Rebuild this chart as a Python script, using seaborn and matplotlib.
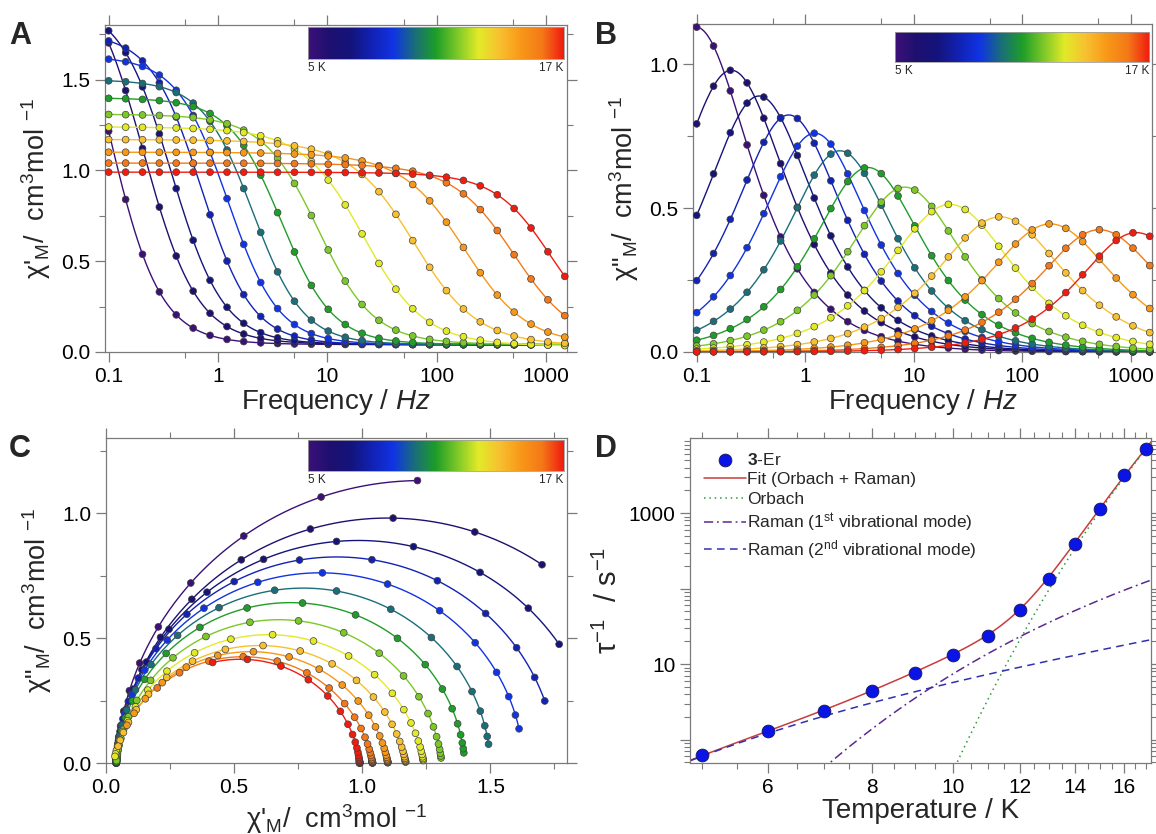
import numpy as np
import pandas as pd
import seaborn as sns
import matplotlib.pyplot as plt
from matplotlib import ticker
from matplotlib.colors import LinearSegmentedColormap

# temperatures of the ac measurements and the colour used for each
temps = [5, 6, 7, 8, 9, 10, 11, 12, 13, 14, 15, 16, 17]
temp_colors = ["#3c1078", "#1e1070", "#14147c", "#1222b4", "#1034e4", "#1a6e7a",
               "#1e9e28", "#7cc828", "#e2ea28", "#f8c030", "#f89818", "#f47818", "#f01c10"]

# measured ac frequencies (Hz)
freqs = [0.1, 0.143, 0.204, 0.291, 0.415, 0.593, 0.846, 1.21, 1.72, 2.46, 3.51, 5.01,
         7.15, 10.2, 14.6, 20.8, 29.7, 42.4, 60.5, 86.4, 123, 176, 251, 359, 512, 731,
         1043, 1488]

# generalised Debye parameters (one per temperature)
chi_T = [2.42, 2.16, 1.93, 1.76, 1.63, 1.50, 1.40, 1.31, 1.24, 1.17, 1.10, 1.04, 0.99]
chi_S = [0.04, 0.04, 0.04, 0.04, 0.04, 0.04, 0.04, 0.04, 0.03, 0.03, 0.03, 0.03, 0.06]
alpha = [0.033, 0.05, 0.038, 0.027, 0.028, 0.027, 0.037, 0.065, 0.104, 0.122, 0.116, 0.109, 0.072]

# relaxation rates tau^-1 (s^-1), panel D
tau_inv = [0.62, 1.31, 2.36, 4.43, 7.7, 13.1, 23.8, 51.8, 135, 392, 1135, 3220, 7020]

# Orbach + Raman fit parameters
orbach_pre, orbach_U = 8.5e9, 238.0
raman1_B, raman1_w = 6070.0, 67.0
raman2_B, raman2_w = 31.7, 20.0

sns.set_style("ticks")
plt.rcParams['font.family'] = ['Liberation Sans', 'DejaVu Sans']
plt.rcParams['mathtext.fontset'] = 'custom'
plt.rcParams['mathtext.rm'] = 'Liberation Sans'
plt.rcParams['mathtext.it'] = 'Liberation Sans:italic'
plt.rcParams['mathtext.bf'] = 'Liberation Sans:bold'

palette = dict(zip(temps, temp_colors))
FRAME = "#7a7a7a"


def debye(f, cs, ct, rate, a):
    x = (2 * np.pi * np.asarray(f, dtype=float) / rate) ** (1 - a)
    s, c = np.sin(np.pi * a / 2), np.cos(np.pi * a / 2)
    den = 1 + 2 * x * s + x ** 2
    return cs + (ct - cs) * (1 + x * s) / den, (ct - cs) * x * c / den


def build_tables():
    pts, fits = [], []
    fgrid = np.geomspace(freqs[0], freqs[-1], 300)
    for i, t in enumerate(temps):
        c1, c2 = debye(freqs, chi_S[i], chi_T[i], tau_inv[i], alpha[i])
        pts.append(pd.DataFrame({"T": t, "f": freqs, "chi1": c1, "chi2": c2}))
        g1, g2 = debye(fgrid, chi_S[i], chi_T[i], tau_inv[i], alpha[i])
        fits.append(pd.DataFrame({"T": t, "f": fgrid, "chi1": g1, "chi2": g2}))
    return pd.concat(pts), pd.concat(fits)


def style_axes(ax):
    for s in ax.spines.values():
        s.set_visible(True)
        s.set_color(FRAME)
        s.set_linewidth(0.9)
    ax.tick_params(which='both', direction='out', top=True, right=True,
                   color=FRAME, labelsize=15, labelcolor='black')
    ax.tick_params(which='major', length=7, width=0.9)
    ax.tick_params(which='minor', length=4, width=0.8)


def add_bar(ax, box):
    cax = ax.inset_axes(box)
    cmap = LinearSegmentedColormap.from_list("tk", temp_colors)
    cax.imshow(np.linspace(0, 1, 256)[None, :], aspect='auto', cmap=cmap)
    cax.set_xticks([])
    cax.set_yticks([])
    for s in cax.spines.values():
        s.set_color("#a0a0a0")
        s.set_linewidth(0.6)
    cax.text(0, -0.1, "5 K", transform=cax.transAxes, ha='left', va='top', fontsize=8.5)
    cax.text(1, -0.1, "17 K", transform=cax.transAxes, ha='right', va='top', fontsize=8.5)


def freq_panel(ax, pts, fits, col, ylim, ylabel, bar_box):
    sns.lineplot(data=fits, x="f", y=col, hue="T", palette=palette, estimator=None,
                 sort=False, linewidth=1, legend=False, ax=ax)
    sns.scatterplot(data=pts, x="f", y=col, hue="T", palette=palette, s=24,
                    edgecolor="#404040", linewidth=0.5, legend=False, ax=ax,
                    zorder=3, clip_on=False)
    ax.set_xscale('log')
    ax.set_xlim(0.0925, 1560)
    ax.set_ylim(*ylim)
    ax.xaxis.set_major_locator(ticker.FixedLocator([0.1, 1, 10, 100, 1000]))
    ax.xaxis.set_major_formatter(ticker.FuncFormatter(lambda v, p: f"{v:g}"))
    ax.xaxis.set_minor_locator(ticker.FixedLocator([0.5, 5, 50, 500]))
    ax.xaxis.set_minor_formatter(ticker.NullFormatter())
    ax.yaxis.set_major_locator(ticker.MultipleLocator(0.5))
    ax.yaxis.set_minor_locator(ticker.MultipleLocator(0.25))
    ax.yaxis.set_major_formatter(ticker.FormatStrFormatter('%.1f'))
    ax.set_xlabel(r"Frequency / $\mathit{Hz}$", fontsize=20, labelpad=1)
    ax.set_ylabel(ylabel, fontsize=19.5, labelpad=6)
    style_axes(ax)
    add_bar(ax, bar_box)


def cole_panel(ax, pts, fits):
    sns.lineplot(data=fits, x="chi1", y="chi2", hue="T", palette=palette, estimator=None,
                 sort=False, linewidth=1, legend=False, ax=ax)
    sns.scatterplot(data=pts, x="chi1", y="chi2", hue="T", palette=palette, s=24,
                    edgecolor="#404040", linewidth=0.5, legend=False, ax=ax,
                    zorder=3, clip_on=False)
    ax.set_xlim(0, 1.80)
    ax.set_ylim(0, 1.30)
    for axis in (ax.xaxis, ax.yaxis):
        axis.set_major_locator(ticker.MultipleLocator(0.5))
        axis.set_minor_locator(ticker.MultipleLocator(0.25))
        axis.set_major_formatter(ticker.FormatStrFormatter('%.1f'))
    ax.set_xlabel(r"χ'$_\mathregular{M}$/  cm$^\mathregular{3}$mol $^\mathregular{-1}$", fontsize=19.5, labelpad=4)
    ax.set_ylabel(r'χ"$_\mathregular{M}$/  cm$^\mathregular{3}$mol $^\mathregular{-1}$', fontsize=19.5, labelpad=6)
    style_axes(ax)
    add_bar(ax, [0.438, 0.898, 0.554, 0.095])


def raman(T, B, w):
    e = np.exp(w / T)
    return B * e / (e - 1) ** 2


def rate_panel(ax):
    Tg = np.geomspace(4.84, 17.3, 400)
    orb = orbach_pre * np.exp(-orbach_U / Tg)
    r1 = raman(Tg, raman1_B, raman1_w)
    r2 = raman(Tg, raman2_B, raman2_w)
    sns.scatterplot(x=temps, y=tau_inv, s=85, color="#0a14e6", edgecolor="#1a1a50",
                    linewidth=0.6, ax=ax, zorder=4, clip_on=False, label=r"$\mathbf{3}$-Er")
    sns.lineplot(x=Tg, y=orb + r1 + r2, color="#c83c3c", linewidth=1.1, ax=ax,
                 label="Fit (Orbach + Raman)")
    sns.lineplot(x=Tg, y=orb, color="#2a9a3a", linewidth=1.1, linestyle=(0, (1, 2.5)),
                 ax=ax, label="Orbach")
    sns.lineplot(x=Tg, y=r1, color="#5a2a90", linewidth=1.1, linestyle=(0, (6, 2.5, 1.2, 2.5)),
                 ax=ax, label=r"Raman (1$^\mathregular{st}$ vibrational mode)")
    sns.lineplot(x=Tg, y=r2, color="#3030b0", linewidth=1.1, linestyle=(0, (5, 3.5)),
                 ax=ax, label=r"Raman (2$^\mathregular{nd}$ vibrational mode)")
    ax.set_xscale('log')
    ax.set_yscale('log')
    ax.set_xlim(4.84, 17.26)
    ax.set_ylim(0.49, 9900)
    ax.xaxis.set_major_locator(ticker.FixedLocator([6, 8, 10, 12, 14, 16]))
    ax.xaxis.set_major_formatter(ticker.FuncFormatter(lambda v, p: f"{v:g}"))
    ax.xaxis.set_minor_locator(ticker.FixedLocator(np.arange(5, 17.5, 0.5)))
    ax.xaxis.set_minor_formatter(ticker.NullFormatter())
    ax.yaxis.set_major_locator(ticker.FixedLocator([1, 10, 100, 1000, 10000]))
    ax.yaxis.set_major_formatter(ticker.FuncFormatter(
        lambda v, p: f"{v:g}" if v in (10, 1000) else ""))
    ax.yaxis.set_minor_locator(ticker.LogLocator(subs=np.arange(2, 10)))
    ax.yaxis.set_minor_formatter(ticker.NullFormatter())
    ax.set_xlabel("Temperature / K", fontsize=20, labelpad=1)
    ax.set_ylabel(r"τ$^\mathregular{-1}$  / s$^\mathregular{-1}$", fontsize=21, labelpad=4)
    style_axes(ax)
    ax.legend(loc='upper left', frameon=False, fontsize=12.5, handlelength=2.4,
              labelspacing=0.25, borderaxespad=0.4, handletextpad=0.1,
              bbox_to_anchor=(0.0, 1.0))


pts, fits = build_tables()

fig = plt.figure(figsize=(11.56, 8.34), dpi=100)
axA = fig.add_axes([0.0908, 0.578, 0.3997, 0.392])
axB = fig.add_axes([0.5995, 0.578, 0.3970, 0.393])
axC = fig.add_axes([0.0917, 0.0851, 0.3990, 0.3897])
axD = fig.add_axes([0.5970, 0.0851, 0.3990, 0.3897])

freq_panel(axA, pts, fits, "chi1", (0, 1.80),
           r"χ'$_\mathregular{M}$/  cm$^\mathregular{3}$mol $^\mathregular{-1}$",
           [0.44, 0.896, 0.553, 0.099])
freq_panel(axB, pts, fits, "chi2", (0, 1.14),
           r'χ"$_\mathregular{M}$/  cm$^\mathregular{3}$mol $^\mathregular{-1}$',
           [0.44, 0.884, 0.554, 0.093])
cole_panel(axC, pts, fits)
rate_panel(axD)

for x, y, letter in [(0.008, 0.975, "A"), (0.515, 0.975, "B"),
                     (0.008, 0.48, "C"), (0.515, 0.48, "D")]:
    fig.text(x, y, letter, fontsize=22, fontweight='bold', va='top', ha='left')

fig.savefig("out.png", dpi=100)
